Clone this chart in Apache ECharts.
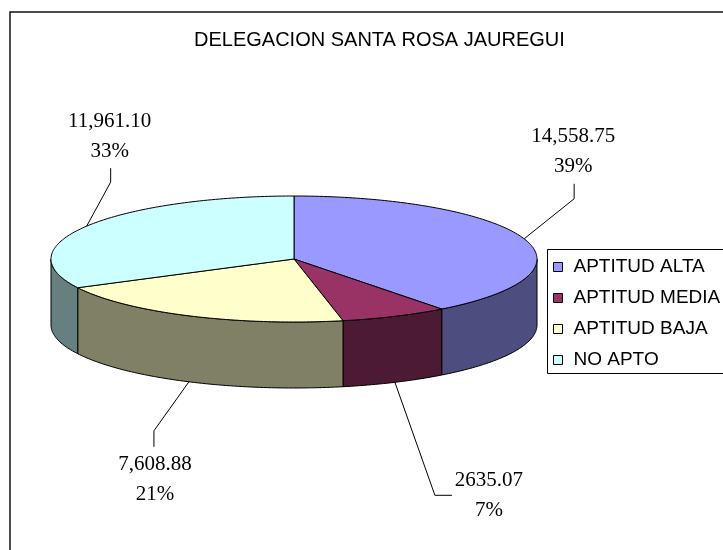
<!DOCTYPE html>
<html>
<head>
<meta charset="utf-8">
<script src="https://cdn.jsdelivr.net/npm/echarts@6/dist/echarts.min.js"></script>
<style>
  html, body { margin: 0; padding: 0; background: #fff; }
  #pie3d { width: 723px; height: 550px; }
</style>
</head>
<body>
<div id="pie3d"></div>
<script>
// datos
var categories = ['APTITUD ALTA', 'APTITUD MEDIA', 'APTITUD BAJA', 'NO APTO'];
var values = [14558.75, 2635.07, 7608.88, 11961.10];
var valueLabels = ['14,558.75', '2635.07', '7,608.88', '11,961.10'];
var percentLabels = ['39%', '7%', '21%', '33%'];

// colores (cara superior / lateral)
var topColors = ['#9999FF', '#993366', '#FFFFCC', '#CCFFFF'];
var sideColors = ['#4D4D80', '#4D1A33', '#808066', '#668080'];

// geometria del pastel "3d"
var cx = 294, cy = 259, rx = 243, ry = 63, depth = 66;
// desplazamientos de las lineas guia y etiquetas respecto al ancla
var leaderOffsets = [
    [[50, -40], [50, -55], [49, -87]],
    [[40, 113], [57, 113], [94, 113]],
    [[-35, 49], [-35, 65], [-34, 98]],
    [[24, -44], [24, -58], [23, -90]]
];

var total = values.reduce(function (a, b) { return a + b; }, 0);
var starts = [];
var acc = 0;
values.forEach(function (v) { starts.push(acc / total * 360); acc += v; });

function pt(deg, dz) {
    var r = deg * Math.PI / 180;
    return [cx + rx * Math.sin(r), cy - ry * Math.cos(r) + dz];
}
function arc(a, b, dz) {
    var pts = [];
    var n = Math.max(2, Math.ceil(b - a));
    for (var k = 0; k <= n; k++) pts.push(pt(a + (b - a) * k / n, dz));
    return pts;
}

function makeRender(i) {
    return function (params, api) {
        var a = starts[i];
        var b = a + values[i] / total * 360;
        var children = [];
        // lateral visible (mitad delantera 90..270)
        var sa = Math.max(a, 90), sb = Math.min(b, 270);
        if (sb > sa) {
            var side = arc(sa, sb, 0).concat(arc(sa, sb, depth).reverse());
            children.push({
                type: 'polygon',
                shape: { points: side },
                style: { fill: sideColors[i], stroke: '#000', lineWidth: 1 }
            });
        }
        // cara superior
        children.push({
            type: 'polygon',
            shape: { points: [[cx, cy]].concat(arc(a, b, 0)) },
            style: { fill: topColors[i], stroke: '#000', lineWidth: 1 }
        });
        // linea guia + etiqueta
        var mid = (a + b) / 2;
        var front = mid > 90 && mid < 270;
        var anchor = pt(mid, front ? depth : 0);
        var off = leaderOffsets[i];
        children.push({
            type: 'polyline',
            shape: { points: [anchor, [anchor[0] + off[0][0], anchor[1] + off[0][1]], [anchor[0] + off[1][0], anchor[1] + off[1][1]]] },
            style: { stroke: '#000', lineWidth: 1, fill: null }
        });
        children.push({
            type: 'text',
            x: anchor[0] + off[2][0],
            y: anchor[1] + off[2][1],
            style: {
                text: valueLabels[i] + '\n' + percentLabels[i],
                font: '21px "Liberation Serif", "Times New Roman", serif',
                fill: '#000',
                align: 'center',
                verticalAlign: 'middle',
                lineHeight: 30
            }
        });
        return { type: 'group', children: children };
    };
}

var pie3d = echarts.init(document.getElementById('pie3d'));
var series = categories.map(function (name, i) {
    return {
        name: name,
        type: 'custom',
        coordinateSystem: 'none',
        silent: true,
        animation: false,
        itemStyle: { color: topColors[i] },
        renderItem: makeRender(i),
        data: [values[i]]
    };
});

var option = {
    backgroundColor: '#fff',
    animation: false,
    title: {
        text: 'DELEGACION SANTA ROSA JAUREGUI',
        left: 194,
        top: 30,
        padding: 0,
        textStyle: {
            fontFamily: 'Liberation Sans, Arial, sans-serif',
            fontSize: 20,
            fontWeight: 'normal',
            color: '#000'
        }
    },
    legend: {
        orient: 'vertical',
        left: 547,
        top: 249,
        data: categories,
        icon: 'rect',
        itemWidth: 9,
        itemHeight: 9,
        itemGap: 11,
        padding: [8, 0, 3, 6],
        selectedMode: false,
        itemStyle: { borderColor: '#000', borderWidth: 1 },
        textStyle: {
            fontFamily: 'Liberation Sans, Arial, sans-serif',
            fontSize: 19,
            lineHeight: 20,
            color: '#000',
            padding: [0, 0, 0, 6]
        }
    },
    graphic: [
        {
            type: 'rect',
            shape: { x: 10, y: 12, width: 800, height: 600 },
            style: { fill: null, stroke: '#111', lineWidth: 1.5 },
            silent: true
        },
        {
            // marco de la leyenda, sale por la derecha como en el original
            type: 'rect',
            shape: { x: 547.5, y: 249.5, width: 220, height: 124 },
            style: { fill: '#fff', stroke: '#000', lineWidth: 1 },
            z: 3,
            silent: true
        }
    ],
    series: series
};
pie3d.setOption(option);
window.addEventListener('resize', function () {
    pie3d.resize();
});
</script>
</body>
</html>
